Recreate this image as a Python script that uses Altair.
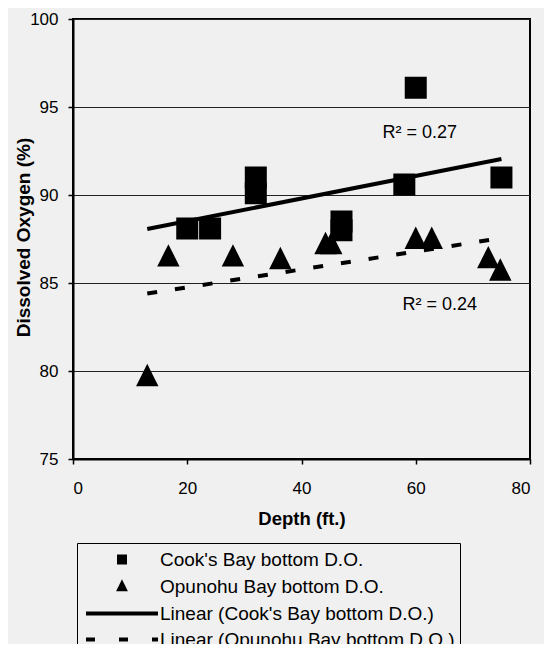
import altair as alt
import pandas as pd

# ---- data ----
cook_depth = [20, 24, 32, 32, 47, 47, 58, 60, 75]
cook_do = [88.1, 88.1, 91.0, 90.1, 88.5, 88.0, 90.6, 96.1, 91.0]

opu_depth = [13, 16.7, 28, 36.3, 44.2, 45.2, 60, 62.8, 72.7, 74.8]
opu_do = [79.7, 86.5, 86.5, 86.35, 87.2, 87.2, 87.5, 87.5, 86.4, 85.7]

trend_depth = [13, 75]
cook_trend = [88.07, 92.05]
opu_trend = [84.4, 87.55]

r2_labels = ["R² = 0.27", "R² = 0.24"]
r2_depth = [60.7, 64.2]
r2_do = [93.5, 83.75]

series = [
    "Cook's Bay bottom D.O.",
    "Opunohu Bay bottom D.O.",
    "Linear (Cook's Bay bottom D.O.)",
    "Linear (Opunohu Bay bottom D.O.)",
]
y_ticks = [75, 80, 85, 90, 95, 100]
x_ticks = [0, 20, 40, 60, 80]

FONT = "Liberation Sans"
BG = "#f0f0f0"

pts = pd.DataFrame(
    {
        "depth": cook_depth + opu_depth,
        "do": cook_do + opu_do,
        "series": [series[0]] * len(cook_depth) + [series[1]] * len(opu_depth),
    }
)
cook_line = pd.DataFrame({"depth": trend_depth, "do": cook_trend})
opu_line = pd.DataFrame({"depth": trend_depth, "do": opu_trend})
r2 = pd.DataFrame({"depth": r2_depth, "do": r2_do, "label": r2_labels})

x_scale = alt.Scale(domain=[0, 80], nice=False)
y_scale = alt.Scale(domain=[75, 100], nice=False, zero=False)

x_axis = alt.Axis(
    values=x_ticks,
    title="Depth (ft.)",
    titleFontSize=18.5,
    titleFontWeight="bold",
    titleY=59,
    titleBaseline="middle",
    labelPadding=16,
    grid=False,
)
y_axis = alt.Axis(
    values=y_ticks,
    title="Dissolved Oxygen (%)",
    titleFontSize=19,
    titleFontWeight="bold",
    titleX=-50,
    titleY=218,
    titleAngle=-90,
    titleAlign="center",
    titleBaseline="middle",
    labelPadding=10,
    grid=True,
)


def legend():
    return alt.Legend(
        title=None,
        orient="none",
        legendX=4,
        legendY=524,
        padding=5,
        strokeColor="black",
        fillColor=BG,
        labelFont=FONT,
        labelFontSize=19,
        labelColor="black",
        labelLimit=500,
        labelOffset=26.5,
        symbolOffset=28.5,
        rowPadding=4,
        symbolSize=361,
        symbolStrokeColor="black",
        symbolFillColor="black",
        symbolStrokeWidth=4,
        symbolOpacity=1,
    )


# unit-path markers (scaled by the symbol size)
SQUARE = "M-0.316,-0.316H0.316V0.316H-0.316Z"
TRIANGLE = "M-0.28,0.28L0.28,0.28L0,-0.28Z"
LINE = "M-3.79,0H3.79"

points = (
    alt.Chart(pts)
    .mark_point(
        filled=True, fill="black", strokeWidth=4, opacity=1,
        fillOpacity=1, strokeOpacity=1, size=3249
    )
    .encode(
        x=alt.X("depth:Q", scale=x_scale, axis=x_axis),
        y=alt.Y("do:Q", scale=y_scale, axis=y_axis),
        shape=alt.Shape(
            "series:N",
            scale=alt.Scale(domain=series, range=[SQUARE, TRIANGLE, LINE, LINE]),
            legend=legend(),
        ),
        stroke=alt.Stroke(
            "series:N",
            scale=alt.Scale(domain=series, range=["black", "black", "black", "black"]),
            legend=legend(),
        ),
        strokeDash=alt.StrokeDash(
            "series:N",
            scale=alt.Scale(domain=series, range=[[1, 0], [1, 0], [1, 0], [9, 24]]),
            legend=legend(),
        ),
    )
)

line_cook = (
    alt.Chart(cook_line)
    .mark_line(color="black", strokeWidth=4)
    .encode(x=alt.X("depth:Q", scale=x_scale), y=alt.Y("do:Q", scale=y_scale))
)
line_opu = (
    alt.Chart(opu_line)
    .mark_line(color="black", strokeWidth=4, strokeDash=[10, 18])
    .encode(x=alt.X("depth:Q", scale=x_scale), y=alt.Y("do:Q", scale=y_scale))
)
labels = (
    alt.Chart(r2)
    .mark_text(font=FONT, fontSize=18, color="black", align="center", baseline="middle")
    .encode(x=alt.X("depth:Q", scale=x_scale), y=alt.Y("do:Q", scale=y_scale), text="label:N")
)

chart = (
    alt.layer(line_cook, line_opu, points, labels)
    .properties(
        width=457,
        height=440,
        background=BG,
        autosize=alt.AutoSizeParams(type="none"),
        padding={"left": 65, "top": 11, "right": 14, "bottom": 185},
    )
    .configure_view(stroke="black", strokeWidth=2, fill=BG)
    .configure_axis(
        domainColor="black",
        domainWidth=2,
        tickColor="black",
        tickSize=5,
        tickWidth=1.5,
        labelFont=FONT,
        labelFontSize=17,
        labelColor="black",
        titleFont=FONT,
        titleColor="black",
        gridColor="#222222",
        gridWidth=1,
    )
)

chart.save("out.html", embed_options={"renderer": "svg", "actions": False})
